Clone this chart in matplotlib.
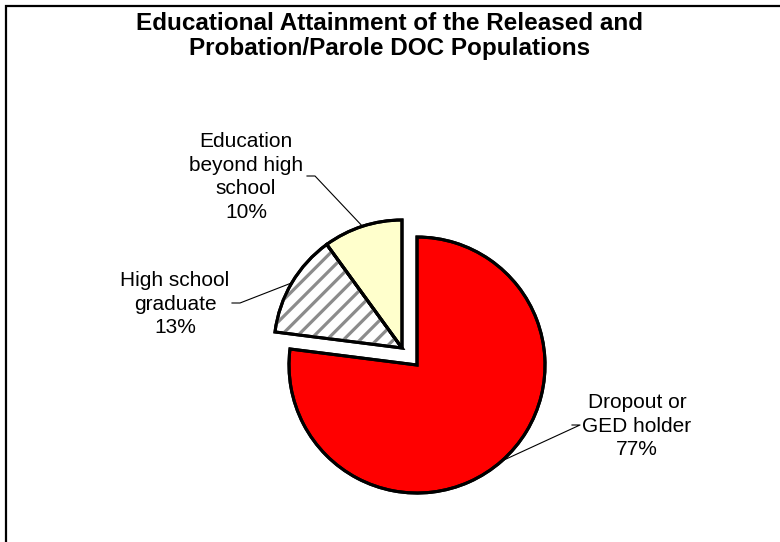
import math
import numpy as np
import matplotlib
matplotlib.use('Agg')
import matplotlib.pyplot as plt
from matplotlib.patches import Wedge, Rectangle

# chart data
categories = ['Dropout or\nGED holder', 'High school\ngraduate', 'Education\nbeyond high\nschool']
shares = [77, 13, 10]
colors = ['#FF0000', '#FFFFFF', '#FFFFCC']

W, H = 780, 542


def flip(y):
    # pixel row (from top) -> data y (from bottom)
    return H - y


def main():
    plt.rcParams['font.family'] = ['Liberation Sans', 'DejaVu Sans']
    plt.rcParams['hatch.linewidth'] = 2.3

    fig = plt.figure(figsize=(W / 100, H / 100), dpi=100)
    ax = fig.add_axes([0, 0, 1, 1])

    cx, cy, r = 402, flip(348), 128
    explode = [22.7, 0, 0]
    wedges, _ = ax.pie(shares, colors=colors, startangle=90, counterclock=False,
                       explode=explode, radius=r, center=(cx, cy),
                       wedgeprops=dict(edgecolor='black', linewidth=2.2))

    # grey diagonal stripes on the high school slice
    hs = wedges[1]
    ax.add_patch(Wedge(hs.center, hs.r, hs.theta1, hs.theta2, facecolor='none',
                       edgecolor='#8c8c8c', hatch='//', linewidth=0, zorder=1.5))
    for w in wedges:
        w.set_zorder(1)
    for w in wedges:
        ax.add_patch(Wedge(w.center, w.r, w.theta1, w.theta2, facecolor='none',
                           edgecolor='black', linewidth=2.2, zorder=2))

    # labels with leader lines
    text_pos = [(637, 426), (175, 304), (246, 177)]
    stubs = [((580, 425), (572, 425)), ((240, 303), (232, 303)), ((315, 176), (307, 176))]
    for w, name, v, (tx, ty), (s0, s1) in zip(wedges, categories, shares, text_pos, stubs):
        ang = math.radians((w.theta1 + w.theta2) / 2)
        ex = w.center[0] + w.r * math.cos(ang)
        ey = w.center[1] + w.r * math.sin(ang)
        ax.plot([ex, s0[0], s1[0]], [ey, flip(s0[1]), flip(s1[1])], color='black',
                linewidth=0.8, zorder=3)
        ax.text(tx, flip(ty), '{}\n{}%'.format(name, v), ha='center', va='center',
                fontsize=15, linespacing=1.3, zorder=4)

    ax.text(390, flip(36), 'Educational Attainment of the Released and\nProbation/Parole DOC Populations',
            ha='center', va='center', fontsize=17.5, fontweight='bold', linespacing=1.1)

    # chart frame (only top and left edges visible)
    ax.add_patch(Rectangle((6, -20), W + 40, flip(6) + 20, facecolor='none',
                           edgecolor='black', linewidth=1.6, zorder=5))

    ax.set_xlim(0, W)
    ax.set_ylim(0, H)
    ax.set_aspect('auto')
    ax.axis('off')
    fig.savefig('out.png', dpi=100)


if __name__ == '__main__':
    main()
